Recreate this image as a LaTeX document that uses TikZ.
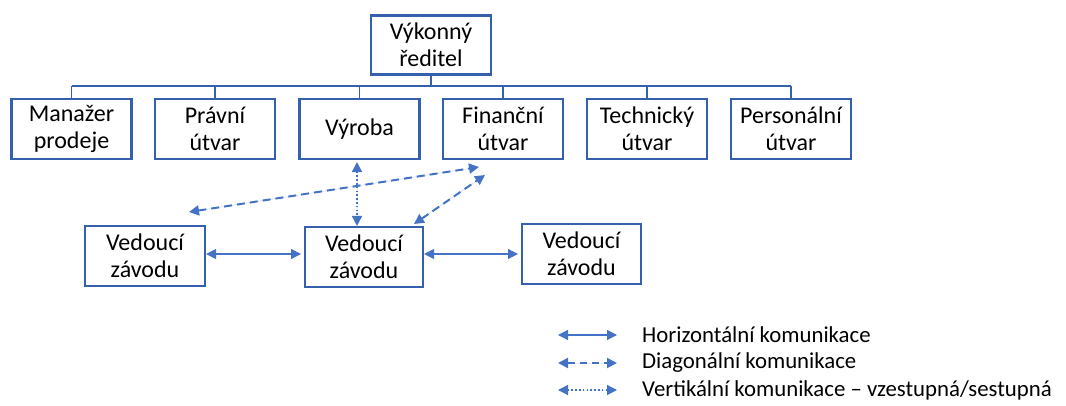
\documentclass[tikz,border=0pt]{standalone}
\usepackage{fontspec}
\setmainfont{Carlito}
\usetikzlibrary{arrows.meta}
\definecolor{boxblue}{HTML}{3560AE}
\definecolor{arrblue}{HTML}{4472C4}
\begin{document}
\begin{tikzpicture}[x=1pt,y=-1pt,
  orgbox/.style={draw=boxblue,line width=2.1pt,fill=white,minimum width=120pt,minimum height=60pt,
    inner sep=0pt,align=center,font=\fontsize{24}{27}\selectfont},
  bus/.style={draw=boxblue,line width=1.7pt},
  tip/.style={{Triangle[length=10pt,width=10pt]}-{Triangle[length=10pt,width=10pt]}},
  harrow/.style={tip,draw=arrblue,fill=arrblue,line width=1.2pt},
  darrow/.style={tip,draw=arrblue,fill=arrblue,line width=2pt,dash pattern=on 8pt off 5pt},
  varrow/.style={tip,draw=arrblue,fill=arrblue,line width=1.6pt,dash pattern=on 1.6pt off 2.2pt},
  legtext/.style={anchor=west,inner sep=0pt,font=\fontsize{22.8}{26}\selectfont}]
\useasboundingbox (0,0) rectangle (1066,406);
\node[orgbox,minimum height=59pt] (top) at (431,45) {Výkonný\\ředitel};
\node[orgbox] (b1) at (71.5,129) {Manažer\\prodeje};
\node[orgbox] (b2) at (215,129) {Právní\\útvar};
\node[orgbox] (b3) at (359.5,129) {Výroba};
\node[orgbox] (b4) at (503,129) {Finanční\\útvar};
\node[orgbox] (b5) at (647,129) {Technický\\útvar};
\node[orgbox] (b6) at (791,129) {Personální\\útvar};
\coordinate (busy) at (0,86);
\draw[bus] (top.south) -- (top.south |- busy);
\draw[bus] (b1.north |- busy) -- (b6.north |- busy);
\foreach \b in {b1,b2,b3,b4,b5,b6}{\draw[bus] (\b.north) -- (\b.north |- busy);}
\node[orgbox] (v1) at (145,256) {Vedoucí\\závodu};
\node[orgbox,minimum width=118pt] (v2) at (364,257) {Vedoucí\\závodu};
\node[orgbox,minimum width=119pt] (v3) at (581.5,254) {Vedoucí\\závodu};
% horizontal
\draw[harrow] (v1.east |- 0,254) -- (301,254);
\draw[harrow] (v2.east |- 0,254) -- (518,254);
% vertical dotted
\coordinate (dotx) at (357,0);
\draw[varrow] (b3.south -| dotx) ++(0,2) -- (v2.north -| dotx);
% diagonal dashed
\coordinate (da) at (189,212);
\coordinate (db) at (479,167);
\coordinate (dc) at (414,224);
\coordinate (dd) at (485,175);
\draw[darrow] (da) -- (db);
\draw[darrow] (dc) -- (dd);
% legend
\coordinate (l1a) at (558,335); \coordinate (l1b) at (617,335);
\coordinate (l2a) at (558,363); \coordinate (l2b) at (617,363);
\coordinate (l3a) at (558,390); \coordinate (l3b) at (617,390);
\draw[harrow] (l1a) -- (l1b);
\draw[darrow,dash pattern=on 7pt off 5pt] (l2a) -- (l2b);
\draw[varrow,line width=1.3pt] (l3a) -- (l3b);
\node[legtext] (t1) at (642,335) {Horizontální komunikace};
\node[legtext] (t2) at (642,363) {Diagonální komunikace};
\node[legtext] (t3) at (642,390) {Vertikální komunikace – vzestupná/sestupná};
\end{tikzpicture}
\end{document}
